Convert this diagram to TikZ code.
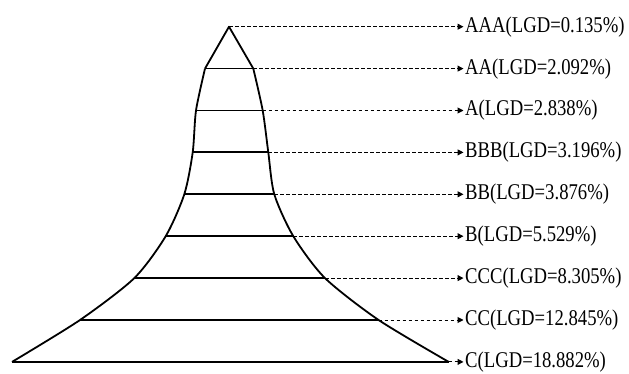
\documentclass[tikz,border=0pt]{standalone}
\usepackage{fontspec}
\newfontfamily\lblfont[FakeStretch=0.83]{Liberation Serif}
\usepackage{tikz}
\usetikzlibrary{arrows.meta,calc}

\begin{document}
\begin{tikzpicture}[x=1pt,y=-1pt,
    lvl/.style={line width=1.8pt,line join=round},
    lead/.style={line width=1pt,dash pattern=on 3.5pt off 2.5pt,-{Triangle[length=6pt,width=6pt]},shorten >=1.5pt},
    lbl/.style={anchor=west,inner sep=0pt,font=\lblfont\fontsize{22.5}{25}\selectfont}]
        \useasboundingbox (0,0) rectangle (629,374);
        % levels: left end / right end / rating label
        \foreach \i/\l/\r/\t in {0/229/229/AAA(LGD=0.135\%), 1/205/253.3/AA(LGD=2.092\%),
            2/196/262.7/A(LGD=2.838\%), 3/192.7/268.3/BBB(LGD=3.196\%),
            4/184.3/274.3/BB(LGD=3.876\%), 5/165.7/293.3/B(LGD=5.529\%),
            6/134.3/325/CCC(LGD=8.305\%), 7/80/378.6/CC(LGD=12.845\%),
            8/12/448.7/C(LGD=18.882\%)}
        {
        \coordinate (L\i) at (\l,{26.7+41.9*\i});
        \coordinate (R\i) at (\r,{26.7+41.9*\i});
        \node[lbl] (rate\i) at (465,{26.7+41.9*\i}) {\t};
        \draw[lead] (R\i) -- (rate\i.west);
        }
        \foreach \i in {1,...,8}
        \draw[lvl] (L\i) -- (R\i);
        \draw[lvl] (L1) -- (L0) -- (R1);
        \draw[lvl] plot[smooth,tension=0.45] coordinates {(L1) (L2) (L3) (L4) (L5) (L6) (L7) (L8)};
        \draw[lvl] plot[smooth,tension=0.45] coordinates {(R1) (R2) (R3) (R4) (R5) (R6) (R7) (R8)};
\end{tikzpicture}
\end{document}
